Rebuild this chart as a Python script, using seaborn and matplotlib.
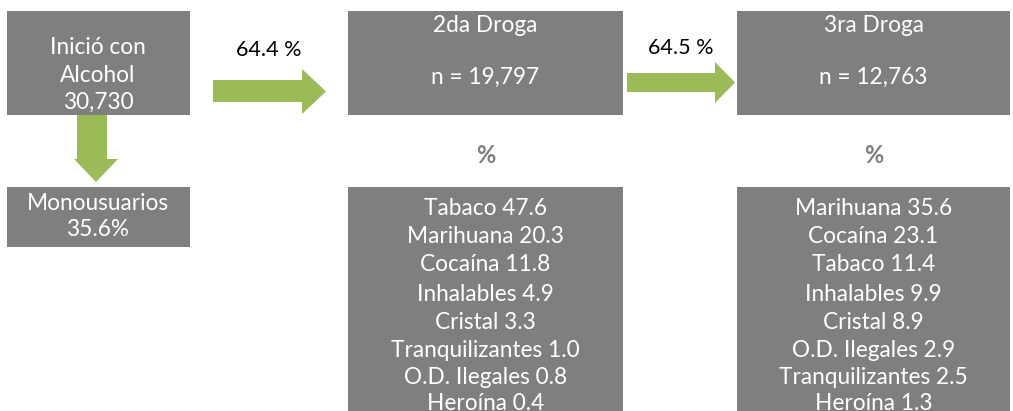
import matplotlib
matplotlib.use("Agg")
import matplotlib.pyplot as plt
from matplotlib.patches import Rectangle, Polygon
import seaborn as sns

# ---- data ----
start_label = ["Inició con", "Alcohol", "30,730"]
mono_label = ["Monousuarios", "35.6%"]
transition_pct = ["64.4 %", "64.5 %"]
stage_titles = ["2da Droga", "3ra Droga"]
stage_n = ["19,797", "12,763"]
drugs_2 = ["Tabaco", "Marihuana", "Cocaína", "Inhalables", "Cristal",
           "Tranquilizantes", "O.D. Ilegales", "Heroína"]
values_2 = [47.6, 20.3, 11.8, 4.9, 3.3, 1.0, 0.8, 0.4]
drugs_3 = ["Marihuana", "Cocaína", "Tabaco", "Inhalables", "Cristal",
           "O.D. Ilegales", "Tranquilizantes", "Heroína"]
values_3 = [35.6, 23.1, 11.4, 9.9, 8.9, 2.9, 2.5, 1.3]

# ---- style ----
sns.set_theme(style="white")
plt.rcParams["font.family"] = ["Lato", "DejaVu Sans"]
GRAY = "#7f7f7f"
GREEN = "#9bbb59"
FS = 16.3

fig = plt.figure(figsize=(10.13, 4.11), dpi=100)
ax = fig.add_axes([0, 0, 1, 1])
ax.set_xlim(0, 1013)
ax.set_ylim(411, 0)
ax.axis("off")


def box(x0, y0, x1, y1):
    ax.add_patch(Rectangle((x0, y0), x1 - x0, y1 - y0, facecolor=GRAY,
                           edgecolor="none"))


def right_arrow(x0, x1, xh, sy0, sy1, hy0, hy1):
    pts = [(x0, sy0), (xh, sy0), (xh, hy0), (x1, (hy0 + hy1) / 2),
           (xh, hy1), (xh, sy1), (x0, sy1)]
    ax.add_patch(Polygon(pts, closed=True, facecolor=GREEN, edgecolor="none"))


def down_arrow(y0, y1, yh, sx0, sx1, hx0, hx1):
    pts = [(sx0, y0), (sx1, y0), (sx1, yh), (hx1, yh), ((hx0 + hx1) / 2, y1),
           (hx0, yh), (sx0, yh)]
    ax.add_patch(Polygon(pts, closed=True, facecolor=GREEN, edgecolor="none"))


def txt(x, y, s, color="white", fs=FS, **kw):
    ax.text(x, y, s, ha="center", va="center", color=color, fontsize=fs, **kw)


# start box
box(7, 11, 190, 115)
for i, s in enumerate(start_label):
    txt(98, 48 + 27 * i, s)

# down arrow + mono box
down_arrow(115, 182, 159, 77, 107, 74, 118)
box(7, 187, 190, 247)
for i, s in enumerate(mono_label):
    txt(98, 203 + 26 * i, s)

# stage columns
col_x = [(348, 623), (737, 1010)]
drug_lists = [(drugs_2, values_2), (drugs_3, values_3)]
line_y = [208, 236, 264, 294, 322, 350, 377, 403]
for k, (x0, x1) in enumerate(col_x):
    cx = (x0 + x1) / 2
    box(x0, 11, x1, 115)
    txt(cx, 25, stage_titles[k])
    txt(cx, 77, "n = " + stage_n[k])
    txt(cx, 155, "%", color=GRAY, fs=17, fontweight="bold")
    box(x0, 187, x1, 411)
    names, vals = drug_lists[k]
    for y, n, v in zip(line_y, names, vals):
        txt(cx, y, f"{n} {v:.1f}")

# transition arrows
right_arrow(213, 326, 302, 80, 102, 69, 114)
txt(269, 50, transition_pct[0], color="black", fs=15.5)
right_arrow(627, 735, 715, 73, 92, 62, 103)
txt(681, 48, transition_pct[1], color="black", fs=15.5)

fig.savefig("out.png", dpi=100)
